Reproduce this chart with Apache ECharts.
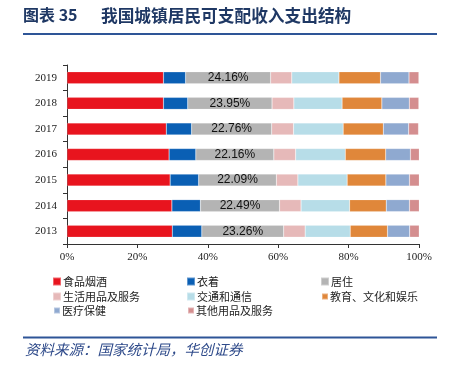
<!DOCTYPE html>
<html>
<head>
<meta charset="utf-8">
<script src="https://cdn.jsdelivr.net/npm/echarts@6/dist/echarts.min.js"></script>
<style>html,body{margin:0;padding:0;background:#fff}#c{width:450px;height:369px}</style>
</head>
<body>
<div id="c"></div>
<script>
var years = ['2013','2014','2015','2016','2017','2018','2019'];
var xTicks = ['0%','20%','40%','60%','80%','100%'];
var seriesNames = ['食品烟酒','衣着','居住','生活用品及服务','交通和通信','教育、文化和娱乐','医疗保健','其他用品及服务'];
var food      = [29.9, 29.8, 29.3, 29.0, 28.2, 27.4, 27.4];
var clothing  = [8.4, 8.1, 8.1, 7.6, 7.2, 6.9, 6.3];
var housing   = [23.26, 22.49, 22.09, 22.16, 22.76, 23.95, 24.16];
var daily     = [6.1, 6.1, 6.1, 6.2, 6.2, 6.2, 6.0];
var transport = [12.8, 13.8, 14.0, 14.1, 14.1, 13.7, 13.4];
var education = [10.6, 10.4, 11.0, 11.5, 11.4, 11.3, 11.8];
var health    = [6.3, 6.6, 6.7, 7.0, 7.2, 7.8, 8.1];
var other     = [2.7, 2.8, 2.8, 2.6, 2.8, 2.7, 2.8];
var allData = [food, clothing, housing, daily, transport, education, health, other];
var colors = ['#e8141e','#0a5fb4','#b4b4b4','#e6b9b9','#b7dde8','#e0873a','#8fa9d0','#d48e8f'];

var series = seriesNames.map(function(n, i){
  var s = {
    name: n, type: 'bar', stack: 'total', data: allData[i],
    barWidth: 12,
    itemStyle: {color: colors[i], borderColor: 'rgba(255,255,255,0.35)', borderWidth: 0.5},
    emphasis: {disabled: true}
  };
  if (i === 2) {
    s.label = {show: true, position: 'inside', formatter: '{c}%', color: '#111',
      fontSize: 12, fontFamily: 'Liberation Sans'};
  }
  return s;
});

// legend positions (icon left, row centre)
var legPos = [[52,283],[186,283],[320,283],[52,298],[186,298],[320,298],[52,312],[186,312]];
var legends = seriesNames.map(function(n, i){
  var small = i >= 5;
  return {
    data: [n], left: legPos[i][0] + (small ? 1 : 0), top: legPos[i][1] - 7,
    padding: 0,
    icon: 'rect', itemWidth: small ? 6 : 8, itemHeight: small ? 6 : 8, itemGap: 0,
    textStyle: {fontSize: 11, color: '#222', fontFamily: 'Noto Sans CJK SC', padding: [0,0,0,-3]},
    selectedMode: false
  };
});

var chart = echarts.init(document.getElementById('c'), null, {renderer: 'canvas'});
chart.setOption({
  animation: false,
  color: colors,
  grid: {left: 67, right: 31, top: 65, bottom: 125, containLabel: false},
  xAxis: {
    type: 'value', min: 0, max: 100, interval: 20,
    axisLine: {show: true, lineStyle: {color: '#333', width: 1}},
    axisTick: {show: true, length: 4, lineStyle: {color: '#333'}},
    splitLine: {show: false},
    axisLabel: {formatter: function(v){ return xTicks[v/20]; }, fontFamily: 'Liberation Serif', fontSize: 11, color: '#222', margin: 8}
  },
  yAxis: {
    type: 'category', data: years,
    axisLine: {show: true, lineStyle: {color: '#333', width: 1}},
    axisTick: {show: true, length: 4, lineStyle: {color: '#333'}},
    axisLabel: {fontFamily: 'Liberation Serif', fontSize: 11, color: '#222', margin: 10}
  },
  legend: legends,
  series: series,
  graphic: [
    {type: 'text', left: 23, top: 7, style: {text: '图表 35', font: 'bold 16px "Noto Sans CJK SC"', fill: '#1f3864'}},
    {type: 'text', left: 101, top: 7, style: {text: '我国城镇居民可支配收入支出结构', font: 'bold 16.7px "Noto Sans CJK SC"', fill: '#1f3864'}},
    {type: 'rect', shape: {x: 23, y: 33, width: 414, height: 2}, style: {fill: '#2e5597'}},
    {type: 'rect', shape: {x: 23, y: 336.5, width: 414, height: 2}, style: {fill: '#2e5597'}},
    {type: 'text', left: 25, top: 342, style: {text: '资料来源：国家统计局，华创证券', font: 'italic 14.5px "Noto Sans CJK SC"', fill: '#2e4a8a'}}
  ]
});
</script>
</body>
</html>
